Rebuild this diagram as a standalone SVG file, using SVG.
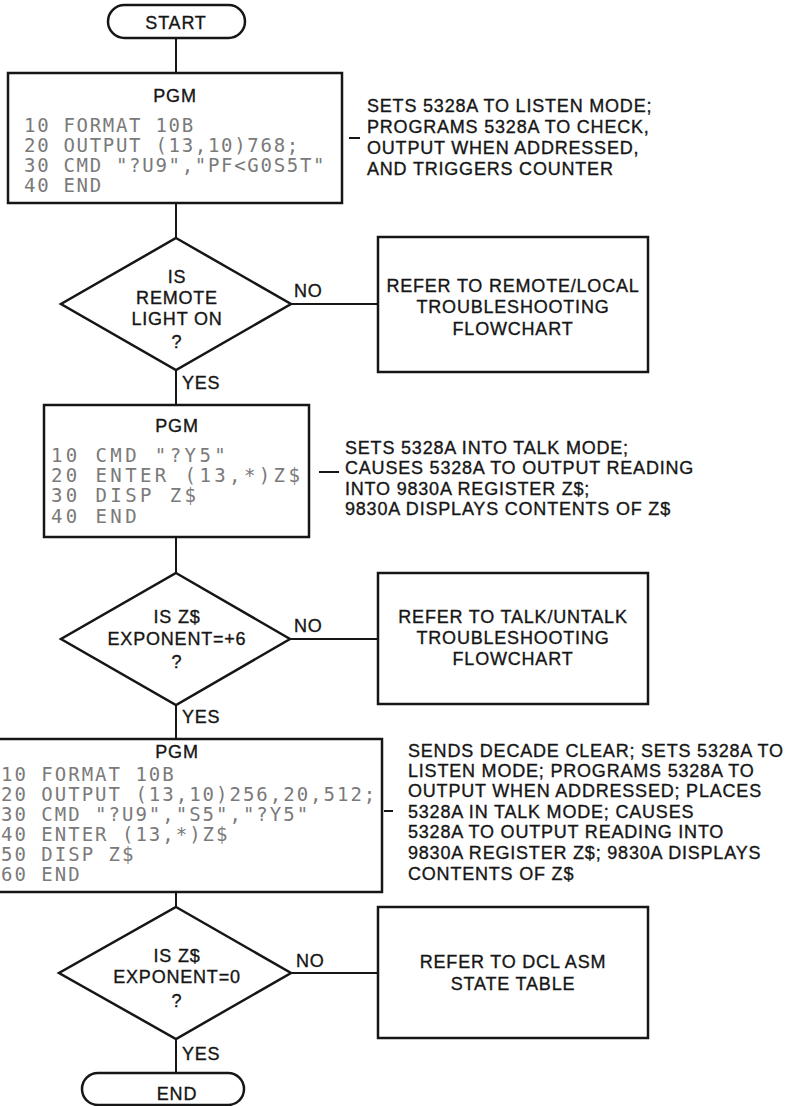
<svg xmlns="http://www.w3.org/2000/svg" width="787" height="1106" viewBox="0 0 787 1106">
  <style>
    .shape { fill: #ffffff; stroke: #161616; stroke-width: 2.5; }
    .wire { fill: none; stroke: #161616; stroke-width: 2; }
    .lbl { font-family: "Liberation Sans", Arial, sans-serif; font-size: 18px; letter-spacing: 0.8px; fill: #161616; stroke: #161616; stroke-width: 0.35px; }
    .mid { text-anchor: middle; }
    .code { font-family: "DejaVu Sans Mono", "Liberation Mono", monospace; font-size: 19px; fill: #7a7a7a; }
    .c1 { letter-spacing: 1.7px; }
    .c2 { letter-spacing: 3.4px; }
    .c3 { letter-spacing: 2.0px; }
  </style>
  <rect width="787" height="1106" fill="#ffffff"/>

  <!-- flow lines, branch lines and note leaders -->
  <g id="connectors">
    <line class="wire" x1="176" y1="38" x2="176" y2="73"/>
    <line class="wire" x1="176" y1="203" x2="176" y2="238"/>
    <line class="wire" x1="176" y1="370" x2="176" y2="405"/>
    <line class="wire" x1="176" y1="537" x2="176" y2="573"/>
    <line class="wire" x1="176" y1="705" x2="176" y2="739"/>
    <line class="wire" x1="176" y1="892" x2="176" y2="907"/>
    <line class="wire" x1="176" y1="1039" x2="176" y2="1073"/>
    <line class="wire" x1="291" y1="304" x2="378" y2="304"/>
    <line class="wire" x1="291" y1="639" x2="378" y2="639"/>
    <line class="wire" x1="291" y1="973" x2="378" y2="973"/>
    <line class="wire" x1="349" y1="138" x2="360" y2="138"/>
    <line class="wire" x1="319" y1="472" x2="339" y2="472"/>
    <line class="wire" x1="384" y1="811" x2="393" y2="811"/>
    <text class="lbl" x="294" y="297">NO</text>
    <text class="lbl" x="294" y="632">NO</text>
    <text class="lbl" x="296" y="967">NO</text>
    <text class="lbl" x="182" y="389">YES</text>
    <text class="lbl" x="182" y="723">YES</text>
    <text class="lbl" x="182" y="1060">YES</text>
  </g>

  <g id="start">
    <rect class="shape" x="108" y="5" width="137" height="33" rx="16.5"/>
    <text class="lbl mid" x="176" y="29">START</text>
  </g>

  <g id="pgm-listen">
    <rect class="shape" x="8" y="73" width="334" height="130"/>
    <text class="lbl mid" x="175" y="102">PGM</text>
    <text class="code c1" x="24" y="132">10 FORMAT 10B</text>
    <text class="code c1" x="24" y="152">20 OUTPUT (13,10)768;</text>
    <text class="code c1" x="24" y="172">30 CMD "?U9","PF&lt;G0S5T"</text>
    <text class="code c1" x="24" y="192">40 END</text>
  </g>

  <g id="note-listen">
    <text class="lbl" x="367" y="112">SETS 5328A TO LISTEN MODE;</text>
    <text class="lbl" x="367" y="133">PROGRAMS 5328A TO CHECK,</text>
    <text class="lbl" x="367" y="154">OUTPUT WHEN ADDRESSED,</text>
    <text class="lbl" x="367" y="175">AND TRIGGERS COUNTER</text>
  </g>

  <g id="remote-light">
    <polygon class="shape" points="176,238 291,304 176,370 61,304"/>
    <text class="lbl mid" x="177" y="283">IS</text>
    <text class="lbl mid" x="177" y="304">REMOTE</text>
    <text class="lbl mid" x="177" y="325">LIGHT ON</text>
    <text class="lbl mid" x="177" y="348">?</text>
  </g>

  <g id="refer-remote-local">
    <rect class="shape" x="378" y="237" width="270" height="135"/>
    <text class="lbl mid" x="513" y="292">REFER TO REMOTE/LOCAL</text>
    <text class="lbl mid" x="513" y="313">TROUBLESHOOTING</text>
    <text class="lbl mid" x="513" y="335">FLOWCHART</text>
  </g>

  <g id="pgm-talk">
    <rect class="shape" x="44" y="405" width="265" height="132"/>
    <text class="lbl mid" x="177" y="432">PGM</text>
    <text class="code c2" x="51" y="462">10 CMD "?Y5"</text>
    <text class="code c2" x="51" y="482">20 ENTER (13,*)Z$</text>
    <text class="code c2" x="51" y="502">30 DISP Z$</text>
    <text class="code c2" x="51" y="523">40 END</text>
  </g>

  <g id="note-talk">
    <text class="lbl" x="345" y="454">SETS 5328A INTO TALK MODE;</text>
    <text class="lbl" x="345" y="474">CAUSES 5328A TO OUTPUT READING</text>
    <text class="lbl" x="345" y="495">INTO 9830A REGISTER Z$;</text>
    <text class="lbl" x="345" y="515">9830A DISPLAYS CONTENTS OF Z$</text>
  </g>

  <g id="exponent-six">
    <polygon class="shape" points="176,573 290,639 176,705 61,639"/>
    <text class="lbl mid" x="177" y="623">IS Z$</text>
    <text class="lbl mid" x="177" y="645">EXPONENT=+6</text>
    <text class="lbl mid" x="177" y="668">?</text>
  </g>

  <g id="refer-talk-untalk">
    <rect class="shape" x="378" y="573" width="270" height="131"/>
    <text class="lbl mid" x="513" y="623">REFER TO TALK/UNTALK</text>
    <text class="lbl mid" x="513" y="644">TROUBLESHOOTING</text>
    <text class="lbl mid" x="513" y="665">FLOWCHART</text>
  </g>

  <g id="pgm-decade-clear">
    <rect class="shape" x="-10" y="739" width="392" height="153"/>
    <text class="lbl mid" x="177" y="758">PGM</text>
    <text class="code c3" x="1" y="781">10 FORMAT 10B</text>
    <text class="code c3" x="1" y="801">20 OUTPUT (13,10)256,20,512;</text>
    <text class="code c3" x="1" y="821">30 CMD "?U9","S5","?Y5"</text>
    <text class="code c3" x="1" y="841">40 ENTER (13,*)Z$</text>
    <text class="code c3" x="1" y="861">50 DISP Z$</text>
    <text class="code c3" x="1" y="881">60 END</text>
  </g>

  <g id="note-decade-clear">
    <text class="lbl" x="408" y="757">SENDS DECADE CLEAR; SETS 5328A TO</text>
    <text class="lbl" x="408" y="777">LISTEN MODE; PROGRAMS 5328A TO</text>
    <text class="lbl" x="408" y="797">OUTPUT WHEN ADDRESSED; PLACES</text>
    <text class="lbl" x="408" y="818">5328A IN TALK MODE; CAUSES</text>
    <text class="lbl" x="408" y="838">5328A TO OUTPUT READING INTO</text>
    <text class="lbl" x="408" y="859">9830A REGISTER Z$; 9830A DISPLAYS</text>
    <text class="lbl" x="408" y="880">CONTENTS OF Z$</text>
  </g>

  <g id="exponent-zero">
    <polygon class="shape" points="176,907 291,973 176,1039 59,973"/>
    <text class="lbl mid" x="177" y="962">IS Z$</text>
    <text class="lbl mid" x="177" y="983">EXPONENT=0</text>
    <text class="lbl mid" x="177" y="1007">?</text>
  </g>

  <g id="refer-dcl-asm">
    <rect class="shape" x="378" y="907" width="270" height="131"/>
    <text class="lbl mid" x="513" y="968">REFER TO DCL ASM</text>
    <text class="lbl mid" x="513" y="990">STATE TABLE</text>
  </g>

  <g id="end">
    <rect class="shape" x="82" y="1073" width="162" height="32" rx="16"/>
    <text class="lbl mid" x="177" y="1100">END</text>
  </g>
</svg>
